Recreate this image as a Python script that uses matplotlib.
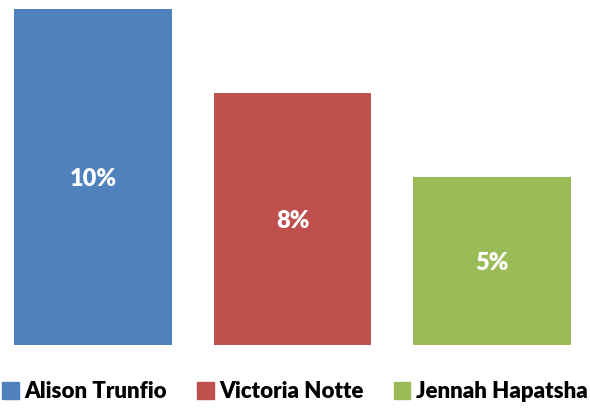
import matplotlib.pyplot as plt
from matplotlib.patches import Patch

# candidate shares (percent)
names = ['Alison Trunfio', 'Victoria Notte', 'Jennah Hapatsha']
shares = [10, 7.5, 5]
colors = ['#4F81BD', '#C0504D', '#9BBB59']

plt.rcParams['font.family'] = ['Lato', 'DejaVu Sans']

fig = plt.figure(figsize=(5.9, 4.08), dpi=100)
ax = fig.add_axes([0, 1 - 345 / 408, 1, 336 / 408])

x = range(len(names))
bars = ax.bar(x, shares, width=0.79, color=colors)

# value labels in the middle of each bar
for b, v in zip(bars, shares):
    ax.text(b.get_x() + b.get_width() / 2, v / 2 - 0.05, f'{v:.0f}%',
            ha='center', va='center', color='white',
            fontsize=17, fontweight='heavy')

ax.set_xlim(-0.466, 2.491)
ax.set_ylim(0, 10)
ax.axis('off')

handles = [Patch(color=c, label=n) for c, n in zip(colors, names)]
fig.legend(handles=handles, loc='lower center', ncol=3, frameon=False,
           bbox_to_anchor=(0.5, -0.035), prop={'size': 16, 'weight': 'heavy'},
           handlelength=0.75, handleheight=0.75, handletextpad=0.25,
           columnspacing=1.35)

fig.savefig('out.png', dpi=100)
